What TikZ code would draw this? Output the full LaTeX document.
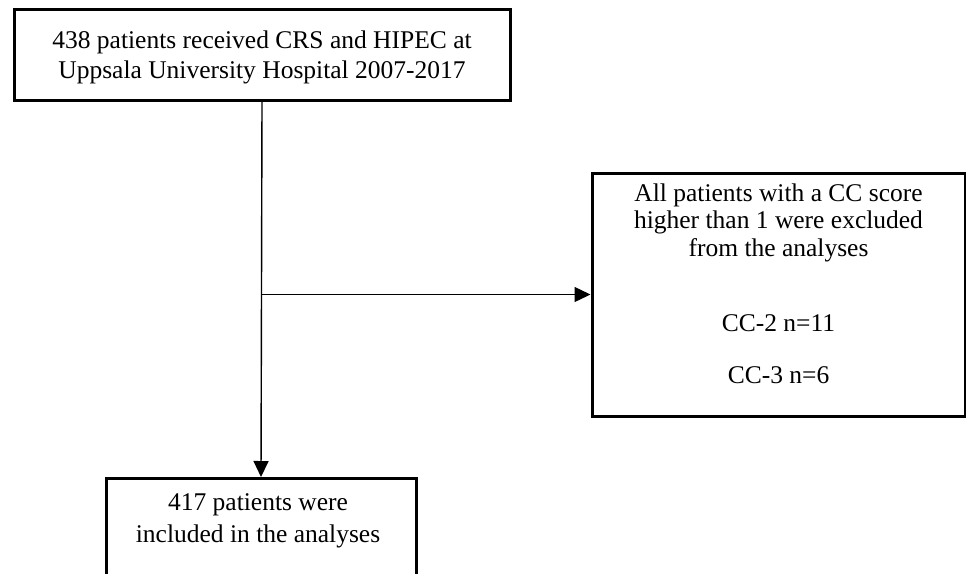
\documentclass[tikz,border=0pt]{standalone}
\usepackage{fontspec}
\setmainfont{Liberation Serif}
\usetikzlibrary{arrows.meta}
\begin{document}
\begin{tikzpicture}[x=1pt,y=-1pt,
  boxstyle/.style={draw=black,line width=3pt,inner sep=0pt,fill=white},
  txt/.style={align=center,inner sep=0pt,font=\fontsize{25.5}{30}\selectfont},
  conn/.style={line width=1.4pt,-{Triangle[length=16pt,width=15pt]}}]
\useasboundingbox (0,0) rectangle (966,573);
\clip (0,0) rectangle (966,573);
\node[boxstyle,minimum width=496pt,minimum height=91pt] (top) at (262,54.5) {};
\node[txt] (toptxt) at (262,57) {438 patients received CRS and HIPEC at\\Uppsala University Hospital 2007-2017};
\node[boxstyle,minimum width=373pt,minimum height=243pt] (excl) at (778.5,294.5) {};
\node[txt,font=\fontsize{25.5}{27.5}\selectfont] (excltxt) at (778.5,222.5) {All patients with a CC score\\higher than 1 were excluded\\from the analyses};
\node[txt] (cc2) at (778.5,323) {CC-2 n=11};
\node[txt] (cc3) at (778.5,375) {CC-3 n=6};
\node[boxstyle,minimum width=310pt,minimum height=140pt,anchor=north] (incl) at (261,477) {};
\node[txt,font=\fontsize{25.5}{32}\selectfont] (incltxt) at (258,521) {417 patients were\\included in the analyses};
\coordinate (j) at (top.south |- excl.west);
\draw[conn] (top.south) -- (incl.north);
\draw[conn] (j) -- (excl.west);
\end{tikzpicture}
\end{document}
